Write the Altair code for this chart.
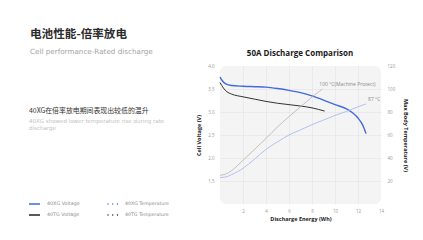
import altair as alt
import pandas as pd

# 40XG cell: voltage (V) against discharged energy (Wh)
xg_v_energy = [0, 0.2, 0.5, 1, 2, 3, 4, 5, 6, 7, 8, 9, 10, 11, 11.5, 12, 12.4, 12.7]
xg_voltage = [3.76, 3.68, 3.61, 3.575, 3.56, 3.55, 3.54, 3.51, 3.47, 3.42, 3.35, 3.26, 3.16, 3.07, 2.99, 2.87, 2.72, 2.53]

# 40TG cell: voltage (V) against discharged energy (Wh)
tg_v_energy = [0, 0.3, 0.6, 1, 2, 3, 4, 5, 6, 7, 8, 9.1]
tg_voltage = [3.64, 3.52, 3.44, 3.39, 3.33, 3.28, 3.23, 3.19, 3.16, 3.13, 3.09, 3.02]

# Max body temperature (°C) against discharged energy (Wh)
xg_t_energy = [0, 0.5, 1, 2, 3, 4, 5, 6, 7, 8, 9, 10, 11, 12, 12.7]
xg_temp = [23, 23.5, 25.5, 31, 39, 47.5, 54, 60, 64.5, 69, 73, 77, 80.5, 84.5, 87]

tg_t_energy = [0, 0.5, 1, 2, 3, 4, 5, 6, 7, 8, 8.9]
tg_temp = [25, 26, 29, 38, 47.5, 57, 67, 76, 84.5, 93, 100]

volt_series = ["40XG Voltage", "40TG Voltage"]
temp_series = ["40XG Temperature", "40TG Temperature"]

volt_df = pd.concat([
    pd.DataFrame({"energy": xg_v_energy, "voltage": xg_voltage, "series": volt_series[0]}),
    pd.DataFrame({"energy": tg_v_energy, "voltage": tg_voltage, "series": volt_series[1]}),
])
temp_df = pd.concat([
    pd.DataFrame({"energy": xg_t_energy, "temp": xg_temp, "series": temp_series[0]}),
    pd.DataFrame({"energy": tg_t_energy, "temp": tg_temp, "series": temp_series[1]}),
])
end_labels = pd.DataFrame({
    "energy": [tg_t_energy[-1], xg_t_energy[-1]],
    "temp": [tg_temp[-1], xg_temp[-1]],
    "label": [f"{tg_temp[-1]:.0f} °C(Machine Protect)", f"{xg_temp[-1]:.0f} °C"],
    "dx": [-3, 2],
})

FONT = "Open Sans"
WIDE = "DejaVu Sans"
CJK = "Noto Sans CJK SC"
BLUE = "#4169e1"
DARK = "#333333"


def no_edge(limit):
    return alt.condition(f"datum.value >= {limit}", alt.value(0), alt.value(1))


axis_style = dict(
    labelFontSize=4.5, labelColor="#999999", labelOverlap=False, labelFlush=False,
    titleFontSize=5.5, titleFontWeight="bold", titleColor="#222222",
    domain=False, ticks=False, labelFont=FONT, titleFont=FONT,
)

x_enc = alt.X(
    "energy:Q",
    scale=alt.Scale(domain=[0, 14], nice=False),
    axis=alt.Axis(
        values=[2, 4, 6, 8, 10, 12, 14], title="Discharge Energy (Wh)",
        labelPadding=4, titlePadding=4,
        grid=True, gridColor="#e3e3e3", gridWidth=0.6, gridOpacity=no_edge(14),
        **axis_style,
    ),
)

volt_y = alt.Y(
    "voltage:Q",
    scale=alt.Scale(domain=[1, 4], nice=False, zero=False),
    axis=alt.Axis(
        values=[1.5, 2.0, 2.5, 3.0, 3.5, 4.0], format=".1f", title="Cell Voltage (V)",
        labelPadding=6, titlePadding=6,
        grid=True, gridColor="#e3e3e3", gridWidth=0.6, gridOpacity=no_edge(4),
        **axis_style,
    ),
)

temp_y = alt.Y(
    "temp:Q",
    scale=alt.Scale(domain=[0, 120], nice=False),
    axis=alt.Axis(
        orient="right", values=[20, 40, 60, 80, 100, 120], title="Max Body Temperature (V)",
        labelPadding=6, titlePadding=8, grid=False,
        **axis_style,
    ),
)

volt_lines = alt.Chart(volt_df).mark_line(interpolate="monotone").encode(
    x=x_enc,
    y=volt_y,
    color=alt.Color("series:N", scale=alt.Scale(domain=volt_series, range=[BLUE, DARK]), legend=None),
    strokeWidth=alt.StrokeWidth("series:N", scale=alt.Scale(domain=volt_series, range=[1.4, 1.0]), legend=None),
)

temp_lines = alt.Chart(temp_df).mark_line(interpolate="monotone", strokeWidth=0.8).encode(
    x=x_enc,
    y=temp_y,
    color=alt.Color("series:N", scale=alt.Scale(domain=temp_series, range=["#a3b4f0", "#b3b3b3"]), legend=None),
)

temp_labels = [
    alt.Chart(end_labels.iloc[[i]]).mark_text(
        align="left", baseline="bottom", dx=float(end_labels["dx"].iloc[i]), dy=-2,
        fontSize=5, color="#8a8a8a", font=FONT,
    ).encode(x=x_enc, y=temp_y, text="label:N")
    for i in range(len(end_labels))
]

plot = alt.layer(volt_lines, alt.layer(temp_lines, *temp_labels)).resolve_scale(
    y="independent", color="independent", strokeWidth="independent"
)

one = pd.DataFrame({"k": [0]})


def note(text, x, y, size, color, weight="normal", font=FONT, align="left"):
    return alt.Chart(one).mark_text(
        text=text, align=align, baseline="middle", fontSize=size, color=color,
        fontWeight=weight, font=font,
    ).encode(x=alt.value(x), y=alt.value(y))


def key_line(x0, y, color, width, dash=None):
    props = dict(color=color, strokeWidth=width)
    if dash:
        props.update(strokeDash=dash, strokeCap="round")
    return alt.Chart(one).mark_rule(**props).encode(
        x=alt.value(x0), x2=alt.value(x0 + 11), y=alt.value(y)
    )


decor = [
    note("50A Discharge Comparison", 80, -12, 8, "#1a1a1a", weight="bold", align="center"),
    note("电池性能-倍率放电", -190, -31, 11.6, "#2b2b2b", weight="bold", font=CJK),
    note("Cell performance-Rated discharge", -190, -14, 7.2, "#a3a3a3", font=WIDE),
    note("40XG在倍率放电期间表现出较低的温升", -191, 44.5, 6.9, "#333333", font=CJK),
    note("40XG showed lower temperature rise during rate", -191, 55.3, 5.5, "#c2c2c2", font=WIDE),
    note("discharge", -191, 61.9, 5.5, "#c2c2c2", font=WIDE),
    key_line(-191, 138, BLUE, 1.5),
    key_line(-191, 149, "#222222", 1.5),
    key_line(-112, 138, BLUE, 1.3, dash=[0.1, 4.6]),
    key_line(-112, 149, "#222222", 1.3, dash=[0.1, 4.6]),
    note("40XG  Voltage", -173, 138, 4.8, "#8a8a8a", font=WIDE),
    note("40TG  Voltage", -173, 149, 4.8, "#8a8a8a", font=WIDE),
    note("40XG  Temperature", -95, 138, 4.7, "#8a8a8a", font=WIDE),
    note("40TG  Temperature", -95, 149, 4.7, "#8a8a8a", font=WIDE),
]

chart = alt.layer(plot, *decor).properties(
    width=161, height=138,
    autosize=alt.AutoSizeParams(type="none"),
    padding={"left": 220, "top": 66, "right": 42, "bottom": 36},
    background="#ffffff",
).configure_view(fill="#f4f4f4", stroke=None, cornerRadius=6)

chart.save("out.html", embed_options={"renderer": "svg", "actions": False})
